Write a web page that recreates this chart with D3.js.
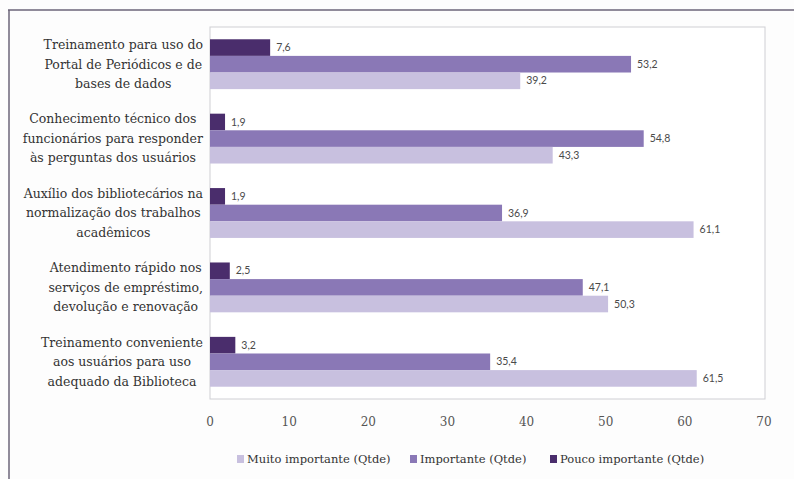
<!DOCTYPE html>
<html>
<head>
<meta charset="utf-8">
<script src="https://cdn.jsdelivr.net/npm/d3@7"></script>
<style>
  html, body { margin: 0; padding: 0; background: #fdfdfd; }
  svg { display: block; }
</style>
</head>
<body>
<svg id="chart" width="794" height="479"></svg>
<script>
// Categories (top to bottom), each label split into its printed lines
const categories = [
  ["Treinamento para uso do", "Portal de Periódicos e de", "bases de dados"],
  ["Conhecimento técnico dos", "funcionários para responder", "às perguntas dos usuários"],
  ["Auxílio dos bibliotecários na", "normalização dos trabalhos", "acadêmicos"],
  ["Atendimento rápido nos", "serviços de empréstimo,", "devolução e renovação"],
  ["Treinamento conveniente", "aos usuários para uso", "adequado da Biblioteca"]
];
const poucoImportante = [7.6, 1.9, 1.9, 2.5, 3.2];
const importante      = [53.2, 54.8, 36.9, 47.1, 35.4];
const muitoImportante = [39.2, 43.3, 61.1, 50.3, 61.5];
const xTicks = [0, 10, 20, 30, 40, 50, 60, 70];

const seriesNames = ["Muito importante (Qtde)", "Importante (Qtde)", "Pouco importante (Qtde)"];
const seriesColors = ["#c8c0df", "#8a78b6", "#4a2d6c"];

// Bars within a group are drawn top-down: pouco, importante, muito
const barOrder = [
  { key: "pouco", values: poucoImportante, color: seriesColors[2] },
  { key: "imp",   values: importante,      color: seriesColors[1] },
  { key: "muito", values: muitoImportante, color: seriesColors[0] }
];

const svg = d3.select("#chart");
const plot = { left: 210, right: 765, top: 27, bottom: 399 };
const serif = "'DejaVu Serif', 'Liberation Serif', serif";

// Page frame lines
svg.append("line").attr("x1", 8).attr("x2", 794).attr("y1", 10).attr("y2", 10)
  .attr("stroke", "#6b6478").attr("stroke-width", 1.5);
svg.append("line").attr("x1", 9).attr("x2", 9).attr("y1", 10).attr("y2", 479)
  .attr("stroke", "#6b6478").attr("stroke-width", 1.5);

// Plot box
svg.append("rect")
  .attr("x", plot.left).attr("y", plot.top)
  .attr("width", plot.right - plot.left).attr("height", plot.bottom - plot.top)
  .attr("fill", "#ffffff").attr("stroke", "#cfcfd4").attr("stroke-width", 1);

const x = d3.scaleLinear().domain([0, 70]).range([plot.left, 764]);
const y = d3.scaleBand().domain(d3.range(categories.length))
  .range([plot.top, plot.bottom]).paddingInner(0.33).paddingOuter(0.165);
const ySub = d3.scaleBand().domain(barOrder.map(d => d.key)).range([0, y.bandwidth()]);

const fmt = v => d3.format(".1f")(v).replace(".", ",");

const groups = svg.append("g").selectAll("g")
  .data(categories).join("g")
  .attr("transform", (d, i) => `translate(0,${y(i)})`);

groups.each(function(cat, i) {
  const g = d3.select(this);
  barOrder.forEach(s => {
    const v = s.values[i];
    g.append("rect")
      .attr("x", x(0))
      .attr("y", ySub(s.key))
      .attr("width", x(v) - x(0))
      .attr("height", ySub.bandwidth())
      .attr("fill", s.color);
    g.append("text")
      .attr("x", x(v) + 6)
      .attr("y", ySub(s.key) + ySub.bandwidth() / 2)
      .attr("dy", "0.35em")
      .attr("font-family", "Lato, 'DejaVu Sans', sans-serif")
      .attr("font-size", 10.5)
      .attr("fill", "#4a4a4a")
      .text(fmt(v));
  });
  // Category label: lines centred on each other, block right-aligned to the axis
  const lineH = 19.5;
  const cy = y.bandwidth() / 2;
  const t = g.append("text")
    .attr("text-anchor", "middle")
    .attr("font-family", serif)
    .attr("font-size", 12.5)
    .attr("fill", "#333");
  const spans = cat.map((line, k) => t.append("tspan")
    .attr("y", cy + (k - (cat.length - 1) / 2) * lineH)
    .attr("dy", "0.35em")
    .text(line));
  const maxW = d3.max(spans, s => s.node().getComputedTextLength());
  spans.forEach(s => s.attr("x", 203 - maxW / 2));
});

// X axis tick labels
svg.append("g").selectAll("text").data(xTicks).join("text")
  .attr("x", d => x(d))
  .attr("y", 422)
  .attr("dy", "0.35em")
  .attr("text-anchor", "middle")
  .attr("font-family", serif)
  .attr("font-size", 12)
  .attr("fill", "#555")
  .text(d => d);

// Legend
const legendX = [237, 410, 550];
const legend = svg.append("g").selectAll("g").data(seriesNames).join("g")
  .attr("transform", (d, i) => `translate(${legendX[i]},459)`);
legend.append("rect").attr("x", 0).attr("y", -4).attr("width", 7).attr("height", 8)
  .attr("fill", (d, i) => seriesColors[i]);
legend.append("text")
  .attr("x", 10).attr("y", 0).attr("dy", "0.35em")
  .attr("font-family", serif)
  .attr("font-size", 11.5)
  .attr("fill", "#333")
  .text(d => d);
</script>
</body>
</html>
